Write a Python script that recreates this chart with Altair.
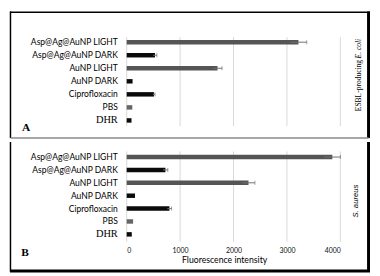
import altair as alt
import pandas as pd

categories = ["Asp@Ag@AuNP LIGHT", "Asp@Ag@AuNP DARK", "AuNP LIGHT", "AuNP DARK",
              "Ciprofloxacin", "PBS", "DHR"]
a_values = [3215, 530, 1700, 110, 510, 105, 90]
a_errors = [155, 35, 85, 0, 20, 0, 0]
b_values = [3850, 725, 2280, 155, 800, 120, 95]
b_errors = [150, 45, 120, 0, 40, 0, 0]
bar_colors = ["#555555", "#0a0a0a", "#555555", "#0a0a0a", "#0a0a0a", "#666666", "#0a0a0a"]
ticks = [0, 1000, 2000, 3000, 4000]
x_title = "Fluorescence intensity"

W = 216
LEFT = -117.5
RIGHT = 244.5
one = pd.DataFrame({"k": [0]})

label_font = alt.condition("datum.value == 'DHR'", alt.value("Liberation Serif"), alt.value("Lato"))
label_size = alt.condition("datum.value == 'DHR'", alt.value(10.5), alt.value(8.6))


def frame_rule(x, x2, y, y2, color, width):
    return alt.Chart(one).mark_rule(color=color, strokeWidth=width).encode(
        x=alt.value(x), x2=alt.value(x2), y=alt.value(y), y2=alt.value(y2))


def txt(s, x, y, size, font, style="normal", weight="normal", angle=0, align="left"):
    return alt.Chart(one).mark_text(
        text=s, font=font, fontSize=size, fontStyle=style, fontWeight=weight,
        angle=angle, align=align, baseline="middle", color="#000").encode(
        x=alt.value(x), y=alt.value(y))


def panel(values, errors, height, row_range, gy, gy2, bottom):
    df = pd.DataFrame({"cat": categories, "val": values, "err": errors})
    df["lo"] = df["val"] - df["err"]
    df["hi"] = df["val"] + df["err"]
    edf = df[df["err"] > 0]
    xs = alt.Scale(domain=[0, 4000], nice=False)
    if bottom:
        xa = alt.Axis(values=ticks, format="d", grid=False, domain=False, ticks=False, tickSize=0,
                      labelFont="Lato", labelFontSize=7, labelPadding=5, labelColor="#111",
                      title=x_title, titleFont="Lato", titleFontSize=8.8,
                      titleFontWeight="normal", titlePadding=2, titleX=98.5,
                      titleAlign="center", titleColor="#000")
    else:
        xa = None
    ys = alt.Scale(domain=categories, range=row_range, paddingInner=0, paddingOuter=0)
    ya = alt.Axis(title=None, domain=False, ticks=False, tickSize=0, labelPadding=9.5,
                  labelFont=label_font, labelFontSize=label_size, labelColor="#000")
    grid = alt.Chart(pd.DataFrame({"t": ticks})).mark_rule(color="#d9d9d9", strokeWidth=1).encode(
        x=alt.X("t:Q", scale=xs, axis=xa, title=x_title), y=alt.value(gy), y2=alt.value(gy2))
    bars = alt.Chart(df).mark_bar(size=4.5).encode(
        x=alt.X("val:Q", scale=xs, axis=xa, title=x_title),
        y=alt.Y("cat:N", sort=categories, scale=ys, axis=ya),
        color=alt.Color("cat:N", scale=alt.Scale(domain=categories, range=bar_colors), legend=None))
    err = alt.Chart(edf).mark_rule(color="#707070", strokeWidth=1).encode(
        x=alt.X("lo:Q", scale=xs, axis=xa, title=x_title), x2="hi:Q",
        y=alt.Y("cat:N", sort=categories, scale=ys, axis=ya))
    caps = alt.Chart(edf).mark_tick(color="#707070", thickness=1, size=4).encode(
        x=alt.X("hi:Q", scale=xs, axis=xa, title=x_title),
        y=alt.Y("cat:N", sort=categories, scale=ys, axis=ya))
    return [grid, bars, err, caps]


pa = panel(a_values, a_errors, 128, [24.5, 116.8], 26, 116, False)
pa += [
    txt("A", -101.7, 118, 11.5, "Liberation Serif", weight="bold", align="center"),
    txt("ESBL-producing", 234.6, 100.8, 7.6, "Liberation Serif", angle=270),
    txt("E. coli", 234.6, 47.5, 7.6, "Liberation Serif", style="italic", angle=270),
    frame_rule(LEFT - 0.5, RIGHT + 1.5, 0.75, 0.75, "#000", 1.5),
    frame_rule(LEFT, LEFT, 0, 128, "#000", 1.5),
    frame_rule(RIGHT, RIGHT, 0, 128, "#000", 3),
    frame_rule(LEFT, RIGHT, 128, 128, "#8a8a8a", 1.5),
]
chart_a = alt.layer(*pa).properties(width=W, height=128)

pb = panel(b_values, b_errors, 101, [8.7, 99.9], 9.5, 101, True)
pb += [
    txt("B", -102.7, 112, 11.5, "Liberation Serif", weight="bold", align="center"),
    txt("S. aureus", 231.7, 76.4, 7.8, "Liberation Sans", style="italic", angle=270),
    frame_rule(LEFT, LEFT, 0, 131, "#000", 1.5),
    frame_rule(RIGHT, RIGHT, 0, 131, "#000", 3),
    frame_rule(LEFT - 0.5, RIGHT + 1.5, 130.5, 130.5, "#000", 3),
]
chart_b = alt.layer(*pb).properties(width=W, height=101)

chart = alt.vconcat(chart_a, chart_b, spacing=0).properties(
    padding=0, background="white"
).configure_view(stroke=None)

chart.save("out.html", embed_options={"renderer": "svg", "actions": False})
